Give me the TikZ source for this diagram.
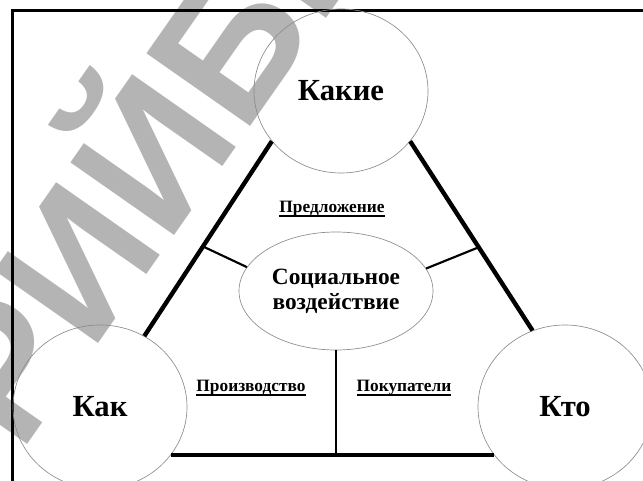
\documentclass[tikz,border=0pt]{standalone}
\usepackage{fontspec}
\setmainfont{Liberation Serif}
\newfontfamily\wmfont{Liberation Sans}
\usetikzlibrary{shapes.geometric,calc}

\definecolor{wmgray}{RGB}{180,180,180}
\definecolor{rimgray}{RGB}{140,140,140}

\newcommand{\thickul}[1]{\setbox0\hbox{#1}\rlap{\vrule height -1.6pt depth 3pt width \wd0}\box0}

\tikzset{every picture/.style={line width=0.75pt}}
\tikzset{
  bigcirc/.style={ellipse, draw=rimgray, line width=0.5pt, minimum width=130.5pt, minimum height=123pt, inner sep=0pt, font=\fontsize{23}{26}\selectfont\bfseries},
  midoval/.style={ellipse, draw=rimgray, line width=0.5pt, minimum width=145.5pt, minimum height=88.5pt, inner sep=0pt, align=center, font=\fontsize{17.5}{19}\selectfont\bfseries},
  sidelbl/.style={font=\fontsize{13}{15}\selectfont\bfseries, inner sep=1pt},
  edge/.style={line width=3.3pt},
  tie/.style={line width=1.6pt},
  watermark/.style={text=wmgray, font=\fontsize{138}{138}\selectfont\wmfont\bfseries, rotate=55, inner sep=0pt}
}

\begin{document}
\begin{tikzpicture}[x=0.75pt,y=0.75pt,yscale=-1,xscale=1]
	\useasboundingbox (0,0) rectangle (643,481);

	% Watermark
	\coordinate (wmgap) at (243,137);
	\node[watermark, anchor=base east] (wmleft) at (wmgap) {РЕПОЗИТОРИЙ~};
	\node[watermark, anchor=base west] (wmright) at (wmgap) {БГПУ};

	%Frame
	\draw [line width=2pt] (12.5,481) -- (12.5,10.5) -- (643,10.5) ;

	%Shape: Ellipse
	\node[bigcirc] (kakie) at (341,91) {Какие};
	%Shape: Ellipse
	\node[bigcirc] (kak) at (100,407) {Как};
	%Shape: Ellipse
	\node[bigcirc] (kto) at (565,407) {Кто};
	%Shape: Ellipse
	\node[midoval] (soc) at (336,291) {Социальное\\воздействие};

	%Straight Lines
	\draw [edge] (kakie.216) -- (kak.58) ;
	\draw [edge] (kakie.324) -- (kto.113) ;
	\draw [edge] (kak.-34) -- (kto.214) ;

	%Straight Lines
	\coordinate (lmid) at ($(kakie.216)!0.54!(kak.58)$);
	\coordinate (rmid) at ($(kakie.324)!0.56!(kto.113)$);
	\draw [tie] (lmid) -- (soc.165) ;
	\draw [tie] (rmid) -- (soc.14) ;
	\draw [tie] (soc.south) -- (soc.south |- kak.-34) ;

	% Text Node
	\node[sidelbl] (offer) at (332,209) {\thickul{Предложение}};
	% Text Node
	\node[sidelbl] (make) at (251,388) {\thickul{Производство}};
	% Text Node
	\node[sidelbl] (buyers) at (404,388) {\thickul{Покупатели}};

\end{tikzpicture}
\end{document}
